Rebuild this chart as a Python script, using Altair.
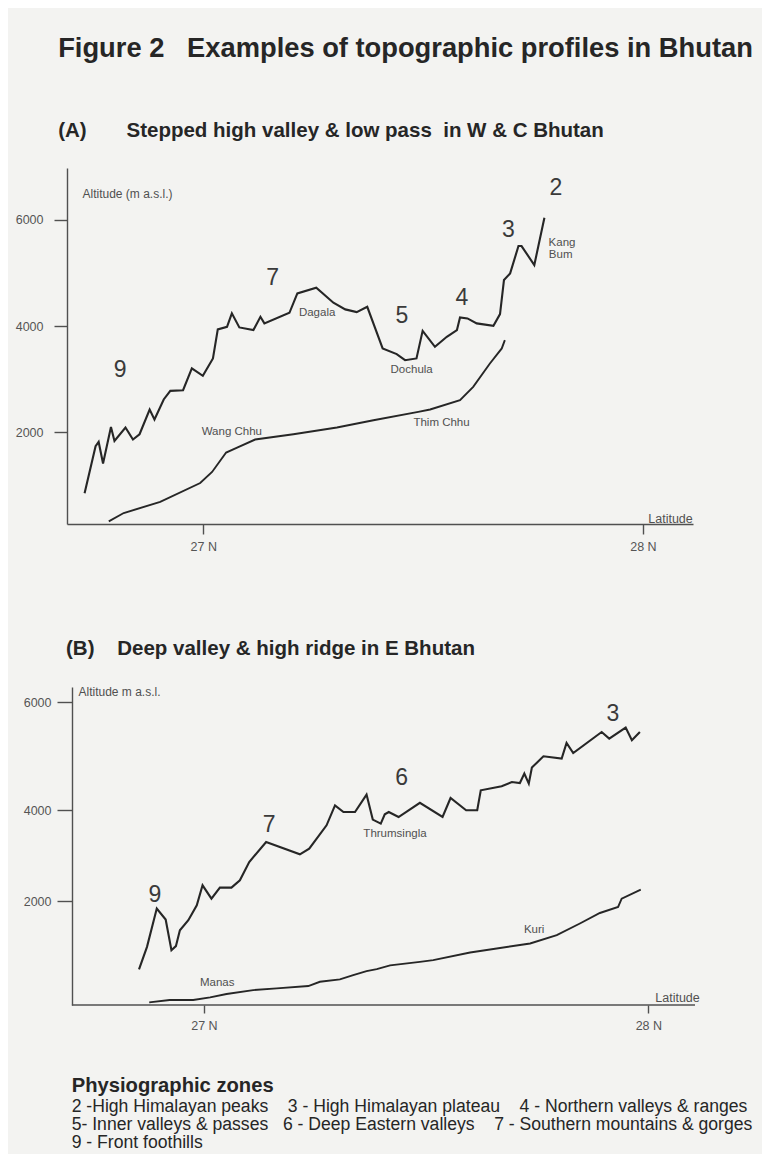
import altair as alt
import pandas as pd

FONT = "Liberation Sans"
INK = "#262626"
GREY = "#505050"
BG = "#f3f3f1"

# ---------------- Panel A : W & C Bhutan ----------------
A_PROFILE_LAT = [26.730, 26.755, 26.762, 26.772, 26.790, 26.798, 26.823, 26.840, 26.855, 26.878,
                 26.889, 26.910, 26.925, 26.954, 26.974, 26.999, 27.022, 27.033, 27.054, 27.065,
                 27.082, 27.114, 27.130, 27.139, 27.196, 27.214, 27.257, 27.296, 27.323, 27.349,
                 27.373, 27.408, 27.440, 27.459, 27.485, 27.499, 27.527, 27.554, 27.577, 27.584,
                 27.601, 27.622, 27.660, 27.675, 27.684, 27.698, 27.717, 27.724, 27.753, 27.776]
A_PROFILE_ALT = [849, 1736, 1817, 1409, 2100, 1836, 2089, 1862, 1962, 2428,
                 2240, 2617, 2779, 2792, 3202, 3062, 3391, 3938, 3987, 4240,
                 3975, 3925, 4175, 4051, 4251, 4617, 4723, 4440, 4315, 4264,
                 4364, 3579, 3472, 3358, 3391, 3911, 3610, 3798, 3925, 4164,
                 4145, 4051, 4006, 4226, 4868, 4994, 5509, 5509, 5151, 6043]
A_RIVER_LAT = [26.785, 26.819, 26.902, 26.993, 27.020, 27.052, 27.077, 27.118, 27.205,
               27.304, 27.387, 27.489, 27.516, 27.584, 27.614, 27.652, 27.679, 27.686]
A_RIVER_ALT = [321, 477, 685, 1043, 1251, 1617, 1711, 1862, 1962,
               2089, 2226, 2383, 2428, 2604, 2855, 3296, 3579, 3736]
A_LABEL_TEXT = ["Dagala", "Dochula", "Wang Chhu", "Thim Chhu", "Kang", "Bum"]
A_LABEL_LAT = [27.259, 27.474, 27.065, 27.542, 27.816, 27.813]
A_LABEL_ALT = [4249, 3174, 2012, 2182, 5573, 5341]
A_ZONE_TEXT = ["9", "7", "5", "4", "3", "2"]
A_ZONE_LAT = [26.811, 27.158, 27.452, 27.588, 27.694, 27.802]
A_ZONE_ALT = [3174, 4908, 4192, 4531, 5812, 6603]

# ---------------- Panel B : E Bhutan ----------------
B_PROFILE_LAT = [26.854, 26.872, 26.894, 26.914, 26.927, 26.937, 26.946, 26.965, 26.984, 26.997,
                 27.017, 27.036, 27.062, 27.081, 27.102, 27.140, 27.216, 27.237, 27.276, 27.295,
                 27.314, 27.340, 27.366, 27.380, 27.398, 27.407, 27.416, 27.438, 27.486, 27.537,
                 27.555, 27.590, 27.615, 27.623, 27.670, 27.693, 27.711, 27.721, 27.731, 27.738,
                 27.764, 27.805, 27.816, 27.831, 27.895, 27.912, 27.949, 27.963, 27.981]
B_PROFILE_ALT = [721, 1143, 1858, 1653, 1081, 1156, 1454, 1640, 1920, 2346,
                 2053, 2295, 2295, 2456, 2860, 3301, 3030, 3155, 3669, 4092,
                 3962, 3962, 4290, 3795, 3707, 3912, 3962, 3852, 4139, 3852,
                 4227, 4000, 4000, 4369, 4443, 4523, 4504, 4678, 4493, 4789,
                 4997, 4955, 5243, 5058, 5446, 5324, 5527, 5293, 5446]
B_RIVER_LAT = [26.877, 26.923, 26.976, 27.014, 27.051, 27.111, 27.164, 27.235, 27.261, 27.306,
               27.336, 27.366, 27.389, 27.419, 27.486, 27.516, 27.599, 27.734, 27.794, 27.846,
               27.891, 27.932, 27.940, 27.983]
B_RIVER_ALT = [106, 149, 149, 199, 261, 335, 367, 410, 490, 535,
               615, 690, 727, 796, 863, 895, 1038, 1206, 1361, 1579,
               1776, 1888, 2053, 2251]
B_LABEL_TEXT = ["Thrumsingla", "Manas", "Kuri"]
B_LABEL_LAT = [27.430, 27.030, 27.743]
B_LABEL_ALT = [3486, 460, 1454]
B_ZONE_TEXT = ["9", "7", "6", "3"]
B_ZONE_LAT = [26.890, 27.147, 27.445, 27.920]
B_ZONE_ALT = [2126, 3669, 4604, 5786]
B_BASE_LAT = [26.703]
B_BASE_LAT2 = [28.105]
B_BASE_ALT = [56]

Y_TICKS = [2000, 4000, 6000]
X_TICKS = [27, 28]

NB = "\u00a0"
LEGEND_LINES = [
    "2 -High Himalayan peaks" + NB * 4 + "3 - High Himalayan plateau" + NB * 4 + "4 - Northern valleys & ranges",
    "5- Inner valleys & passes" + NB * 3 + "6 - Deep Eastern valleys" + NB * 4 + "7 - Southern mountains & gorges",
    "9 - Front foothills",
]


def make_panel(p_lat, p_alt, r_lat, r_alt, l_text, l_lat, l_alt, z_text, z_lat, z_alt,
               xdom, yscale, width, height, ytitle, ytx, yty, ytick, ylabpad, yoffset,
               xtick, latx, laty, title, base=None):
    x = alt.X("lat:Q", scale=alt.Scale(domain=xdom, zero=False, nice=False),
              axis=alt.Axis(values=X_TICKS, labelExpr="datum.value + ' N'", tickSize=xtick,
                            labelPadding=6, grid=False, domain=base is None,
                            title="Latitude", titleX=latx, titleY=laty,
                            titleAlign="center", titleBaseline="middle", titleFontSize=12.5,
                            titleFontWeight="normal", titleColor=GREY))
    y = alt.Y("alt:Q", scale=yscale,
              axis=alt.Axis(values=Y_TICKS, format="d", tickSize=ytick, labelPadding=ylabpad,
                            grid=False, minExtent=50, maxExtent=50, offset=yoffset, title=ytitle,
                            titleAngle=0, titleX=ytx, titleY=yty, titleAlign="left",
                            titleBaseline="middle", titleFontSize=12, titleFontWeight="normal",
                            titleColor=GREY))
    dfp = pd.DataFrame({"lat": p_lat, "alt": p_alt, "i": list(range(len(p_lat)))})
    dfr = pd.DataFrame({"lat": r_lat, "alt": r_alt, "i": list(range(len(r_lat)))})
    dfl = pd.DataFrame({"lat": l_lat, "alt": l_alt, "t": l_text})
    dfz = pd.DataFrame({"lat": z_lat, "alt": z_alt, "t": z_text})
    profile = alt.Chart(dfp).mark_line(color=INK, strokeWidth=2.1, strokeJoin="miter").encode(
        x=x, y=y, order="i:Q")
    river = alt.Chart(dfr).mark_line(color=INK, strokeWidth=1.9).encode(x=x, y=y, order="i:Q")
    labels = alt.Chart(dfl).mark_text(font=FONT, fontSize=11.5, color=GREY).encode(
        x=x, y=y, text="t:N")
    zones = alt.Chart(dfz).mark_text(font=FONT, fontSize=23, color="#3a3a3a").encode(
        x=x, y=y, text="t:N")
    layers = [profile, river, labels, zones]
    if base is not None:
        dfb = pd.DataFrame({"lat": base[0], "lat2": base[1], "alt": base[2]})
        layers.append(alt.Chart(dfb).mark_rule(color=GREY, strokeWidth=1.4).encode(
            x=x, x2="lat2:Q", y=y))
    return alt.layer(*layers).properties(width=width, height=height, title=title)


title_a = alt.TitleParams(
    text="Figure 2" + NB * 3 + "Examples of topographic profiles in Bhutan",
    subtitle="(A)" + NB * 7 + "Stepped high valley & low pass" + NB * 2 + "in W & C Bhutan",
    anchor="start", dx=43, font=FONT, fontSize=27.3, fontWeight="bold", color=INK,
    subtitleFont=FONT, subtitleFontSize=20.5, subtitleFontWeight="bold", subtitleColor=INK,
    subtitlePadding=58, offset=27)

title_b = alt.TitleParams(
    text="(B)" + NB * 4 + "Deep valley & high ridge in E Bhutan",
    anchor="start", dx=44, font=FONT, fontSize=20.5, fontWeight="bold", color=INK, offset=26)

panel_a = make_panel(A_PROFILE_LAT, A_PROFILE_ALT, A_RIVER_LAT, A_RIVER_ALT,
                     A_LABEL_TEXT, A_LABEL_LAT, A_LABEL_ALT, A_ZONE_TEXT, A_ZONE_LAT, A_ZONE_ALT,
                     [26.690, 28.114],
                     alt.Scale(domain=[270, 6980], zero=False, nice=False),
                     626, 356, "Altitude (m a.s.l.)", 15, 25, 13, 11, 0, 10, 603, -6, title_a)

panel_b = make_panel(B_PROFILE_LAT, B_PROFILE_ALT, B_RIVER_LAT, B_RIVER_ALT,
                     B_LABEL_TEXT, B_LABEL_LAT, B_LABEL_ALT, B_ZONE_TEXT, B_ZONE_LAT, B_ZONE_ALT,
                     [26.692, 28.105],
                     alt.Scale(domain=[56, 2000, 4000, 6000, 6277],
                               range=[318, 214, 123.3, 15, 0], zero=False, nice=False),
                     628, 318, "Altitude m a.s.l.", 6, 4, 15, 6, -5, 8, 610, -8, title_b,
                     base=(B_BASE_LAT, B_BASE_LAT2, B_BASE_ALT))

legend_title = alt.TitleParams(
    text="Physiographic zones", subtitle=LEGEND_LINES, orient="bottom", anchor="start", dx=57,
    font=FONT, fontSize=20.2, fontWeight="bold", color=INK,
    subtitleFont=FONT, subtitleFontSize=17.6, subtitleColor=INK, subtitleLineHeight=18,
    subtitlePadding=2, offset=44)

chart = alt.vconcat(panel_a, panel_b, spacing=85).properties(
    title=legend_title, background=BG,
    padding={"left": 6, "right": 8, "top": 26, "bottom": 2},
).configure_view(stroke="transparent").configure_axis(
    domainColor=GREY, domainWidth=1.4, tickColor=GREY, tickWidth=1.4,
    labelColor="#555555", labelFont=FONT, labelFontSize=12.5, titleFont=FONT,
)

chart.save("out.html", embed_options={"renderer": "svg", "actions": False})
